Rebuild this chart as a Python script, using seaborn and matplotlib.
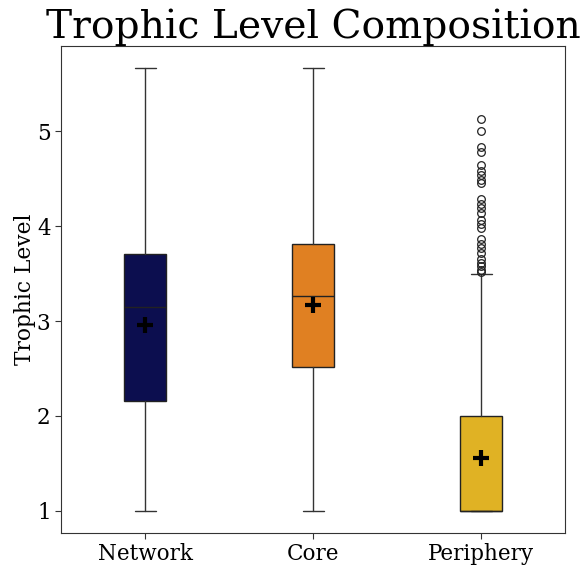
import numpy as np
import matplotlib
matplotlib.use("Agg")
import matplotlib.pyplot as plt
import seaborn as sns

# Box summary per group
categories = ["Network", "Core", "Periphery"]
whisker_low = [1.00, 1.00, 1.00]
q1 = [2.16, 2.52, 1.00]
median = [3.15, 3.26, 1.00]
q3 = [3.71, 3.81, 2.00]
whisker_high = [5.665, 5.665, 3.50]
means = [2.96, 3.17, 1.56]

# Outliers beyond the upper whisker (Periphery only)
periphery_fliers = [5.13, 5.00, 4.83, 4.78, 4.64, 4.58, 4.54, 4.49, 4.45,
                    4.29, 4.23, 4.19, 4.14, 4.07, 4.02, 3.98, 3.86, 3.81,
                    3.77, 3.72, 3.65, 3.61, 3.58, 3.54, 3.52]
fliers = [[], [], periphery_fliers]

colors = ["#0c0e4f", "#e08022", "#e0b224"]

sns.set_style("ticks")
plt.rcParams["font.family"] = ["DejaVu Serif"]
plt.rcParams["axes.edgecolor"] = "#333333"
plt.rcParams["text.color"] = "black"
plt.rcParams["axes.labelcolor"] = "black"
plt.rcParams["xtick.color"] = "black"
plt.rcParams["ytick.color"] = "black"

fig = plt.figure(figsize=(5.82, 5.65), dpi=100)
ax = fig.add_axes([0.1048, 0.0566, 0.8666, 0.862])

stats = []
for i, name in enumerate(categories):
    stats.append(dict(label=name, whislo=whisker_low[i], q1=q1[i], med=median[i],
                      q3=q3[i], whishi=whisker_high[i], mean=means[i],
                      fliers=fliers[i]))

positions = np.arange(len(categories))
bp = ax.bxp(stats, positions=positions, widths=0.25, patch_artist=True,
            showmeans=True,
            boxprops=dict(edgecolor="#222222", linewidth=1.0),
            medianprops=dict(color="#222222", linewidth=1.0),
            whiskerprops=dict(color="#333333", linewidth=1.0),
            capprops=dict(color="#333333", linewidth=1.0),
            meanprops=dict(marker="+", markeredgecolor="black",
                           markersize=11, markeredgewidth=3),
            flierprops=dict(marker="o", markerfacecolor="none",
                            markeredgecolor="#222222", markersize=5.5,
                            markeredgewidth=0.9))
for patch, c in zip(bp["boxes"], sns.color_palette(colors)):
    patch.set_facecolor(c)

ax.set_xlim(-0.5, 2.5)
ax.set_ylim(0.767, 5.898)
ax.set_xticks(positions)
ax.set_xticklabels(categories)
ax.set_yticks([1, 2, 3, 4, 5])
ax.tick_params(axis="both", labelsize=15.5, length=4, color="#333333",
               labelcolor="black")
ax.set_ylabel("Trophic Level", fontsize=15.7, labelpad=0.7)
ax.set_title("Trophic Level Composition", fontsize=28.2)

fig.savefig("out.png", dpi=100)
